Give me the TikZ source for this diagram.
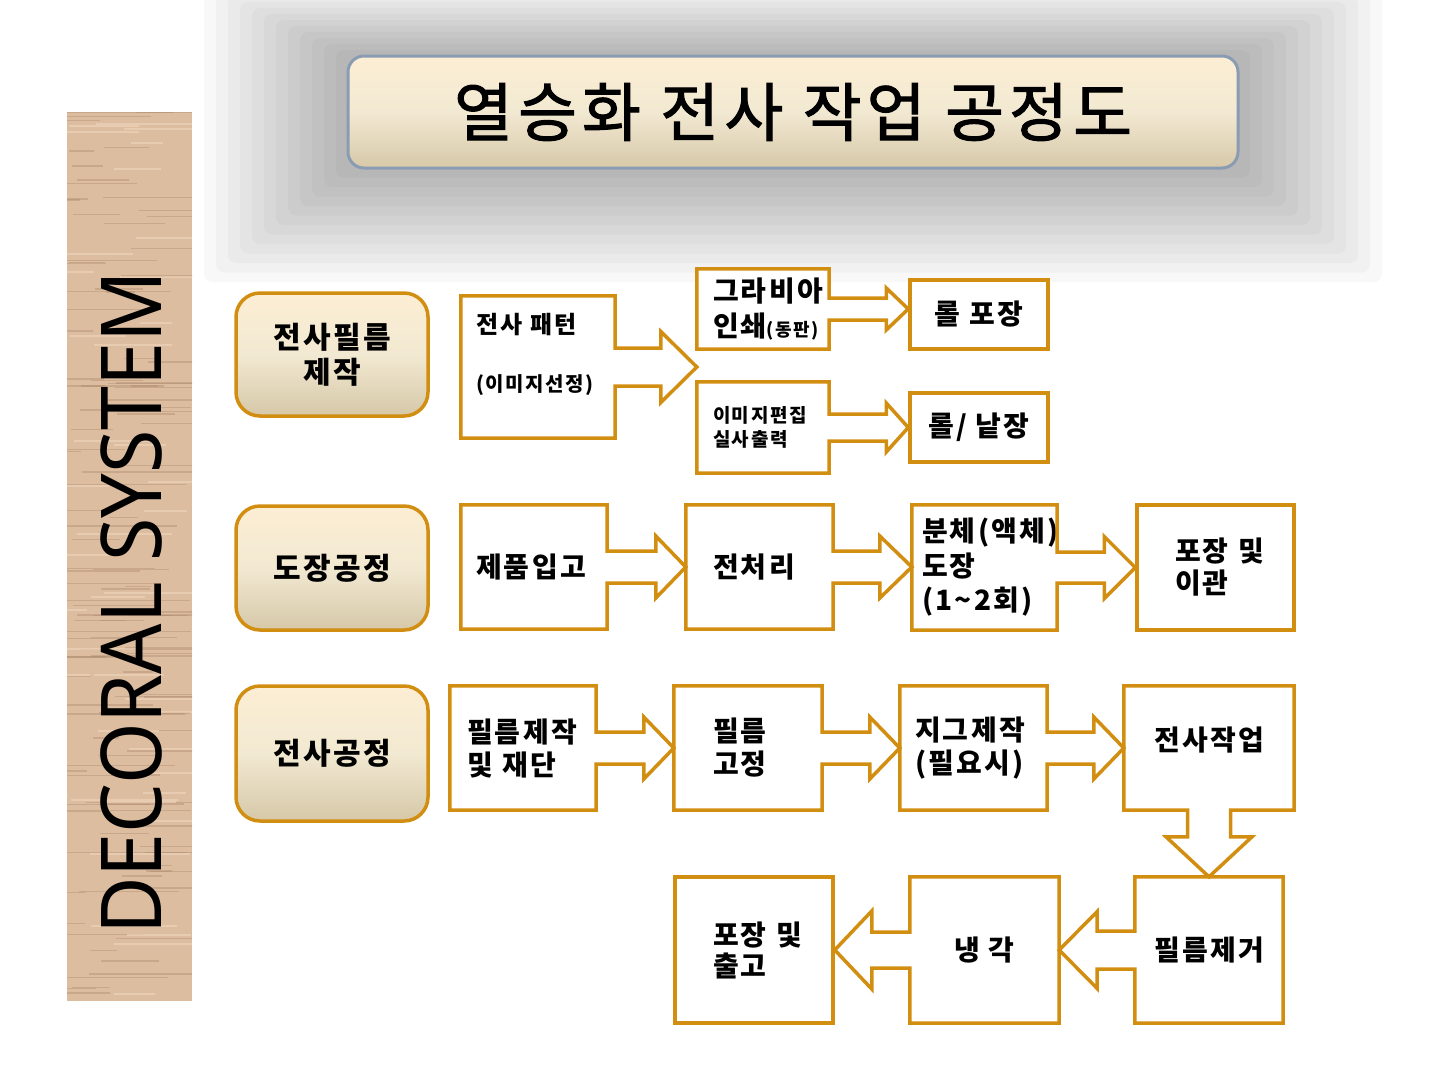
\documentclass[tikz,border=0pt]{standalone}
\usepackage{fontspec}
\setmainfont{Noto Sans CJK KR}[LetterSpace=8]
\newfontfamily\titlefont{Noto Sans CJK KR}[LetterSpace=8,FakeBold=1.6]
\newfontfamily\decofont{Noto Sans}
\usetikzlibrary{calc}
\definecolor{gold}{RGB}{210,142,16}
\definecolor{titleline}{RGB}{138,156,180}
\definecolor{creamtop}{RGB}{252,238,212}
\definecolor{creammid}{RGB}{242,233,210}
\definecolor{creambot}{RGB}{214,200,168}
\definecolor{wood}{RGB}{221,189,160}
\definecolor{woodgrain}{RGB}{170,136,106}
\definecolor{woodlight}{RGB}{240,214,190}
% callout outlines: source, target, shaft half, head half, head length
\newcommand{\rcall}[5]{%
  \coordinate (#1tip) at (#2.west |- #1.east);
  \draw[goldline] (#1.north west) -- (#1.north east) -- ($(#1.east)+(0,-#3)$)
    -- ($(#1tip)+(-#5,-#3)$) -- ($(#1tip)+(-#5,-#4)$) -- (#1tip)
    -- ($(#1tip)+(-#5,#4)$) -- ($(#1tip)+(-#5,#3)$) -- ($(#1.east)+(0,#3)$)
    -- (#1.south east) -- (#1.south west) -- cycle;}
\newcommand{\lcall}[5]{%
  \coordinate (#1tip) at (#2.east |- #1.west);
  \draw[goldline] (#1.north east) -- (#1.north west) -- ($(#1.west)+(0,-#3)$)
    -- ($(#1tip)+(#5,-#3)$) -- ($(#1tip)+(#5,-#4)$) -- (#1tip)
    -- ($(#1tip)+(#5,#4)$) -- ($(#1tip)+(#5,#3)$) -- ($(#1.west)+(0,#3)$)
    -- (#1.south west) -- (#1.south east) -- cycle;}
\newcommand{\dcall}[5]{%
  \coordinate (#1tip) at (#1.south |- #2.north);
  \draw[goldline] (#1.north west) -- (#1.north east) -- (#1.south east)
    -- ($(#1.south)+(#3,0)$) -- ($(#1tip)+(#3,-#5)$) -- ($(#1tip)+(#4,-#5)$) -- (#1tip)
    -- ($(#1tip)+(-#4,-#5)$) -- ($(#1tip)+(-#3,-#5)$) -- ($(#1.south)+(-#3,0)$)
    -- (#1.south west) -- cycle;}
\begin{document}
\begin{tikzpicture}[x=1pt,y=-1pt,
  goldline/.style={draw=gold,line width=3.5pt,line join=miter},
  stage/.style={draw=gold,line width=3.5pt,rounded corners=24pt,top color=creamtop,bottom color=creambot,
    middle color=creammid,minimum width=192,align=center,font=\bfseries\fontsize{30}{35}\selectfont},
  cbox/.style={fill=white,inner ysep=0pt,align=left,font=\bfseries\fontsize{28}{33}\selectfont},
  pbox/.style={cbox,goldline,align=center}]
\useasboundingbox (0,0) rectangle (1440,1080);
% shadow behind the title
\foreach \i in {1,...,12}
  \fill[black,opacity=0.028,rounded corners=8pt] (348-12*\i,56-6*\i) rectangle (1238+12*\i,168+9.5*\i);
% wood strip
\begin{scope}
\clip (67,112) rectangle (192,1001);
\fill[wood] (67,112) rectangle (192,1001);
\pgfmathsetseed{11}
\foreach \k in {1,...,120}{
  \pgfmathsetmacro{\wy}{112+889*rnd}
  \pgfmathsetmacro{\wa}{40+110*rnd}
  \pgfmathsetmacro{\wl}{25+110*rnd}
  \pgfmathsetmacro{\ww}{0.5+1.6*rnd}
  \draw[woodgrain,opacity=0.4,line width=\ww] (\wa,\wy) -- ++(\wl,0);
}
\foreach \k in {1,...,40}{
  \pgfmathsetmacro{\wy}{112+889*rnd}
  \pgfmathsetmacro{\wa}{40+110*rnd}
  \pgfmathsetmacro{\wl}{30+90*rnd}
  \draw[woodlight,opacity=0.6,line width=2] (\wa,\wy) -- ++(\wl,0);
}
\end{scope}
\node[rotate=90,font=\decofont\fontsize{84}{84}\selectfont] (deco) at (131,603) {\scalebox{0.94}[1]{DECORAL SYSTEM}};
% title
\node[draw=titleline,line width=3pt,rounded corners=16pt,top color=creamtop,bottom color=creambot,middle color=creammid,
  minimum width=890,minimum height=112,font=\titlefont\fontsize{64}{70}\selectfont] (title) at (793,112) {열승화 전사 작업 공정도};
% left stages
\node[stage,minimum height=123] (s1) at (332,354.5) {전사필름\\제작};
\node[stage,minimum height=124] (s2) at (332,568) {도장공정};
\node[stage,minimum height=135] (s3) at (332,753.5) {전사공정};
% row 1
\node[cbox,text width=124,inner xsep=15,minimum height=142,text depth=87,font=\bfseries\fontsize{24}{30}\selectfont] (pat) at (538,367)
  {전사 패턴\\[28pt]{\fontsize{20}{30}\selectfont (이미지선정)}};
\node[cbox,text width=100,inner xsep=16,minimum height=80,font=\bfseries\fontsize{28}{35}\selectfont] (gra) at (763,309)
  {그라비아\\인쇄{\fontsize{18}{35}\selectfont (동판)}};
\node[cbox,text width=100,inner xsep=16,minimum height=91,font=\bfseries\fontsize{19}{24}\selectfont] (img) at (763,427.5)
  {이미지편집\\실사출력};
\node[pbox,minimum width=138,minimum height=69] (roll) at (979,314.5) {롤 포장};
\node[pbox,minimum width=138,minimum height=69] (sheet) at (979,427.5) {롤/ 낱장};
% row 2
\node[cbox,text width=116,inner xsep=15,minimum height=124] (prod) at (534,567) {제품입고};
\node[cbox,text width=93,inner xsep=27,minimum height=124] (pre) at (759.5,567) {전처리};
\node[cbox,text width=125,inner xsep=10,minimum height=125,font=\bfseries\fontsize{28}{34.5}\selectfont] (coat) at (984.5,567.5)
  {분체(액체)\\도장\\(1\textasciitilde 2회)};
\node[pbox,align=left,text width=81,inner xsep=38,minimum height=125,font=\bfseries\fontsize{28}{32}\selectfont] (move) at (1215.5,567.5)
  {포장~및\\이관};
% row 3
\node[cbox,text width=112,inner xsep=17,minimum height=124] (film) at (523,748) {필름제작\\및~재단};
\node[cbox,text width=70,inner xsep=39,minimum height=124] (fix) at (748,748) {필름\\고정};
\node[cbox,text width=117,inner xsep=15,minimum height=124] (jig) at (973.5,748) {지그제작\\(필요시)};
\node[cbox,align=center,minimum width=170,minimum height=124,text depth=18] (work) at (1209,748) {전사작업};
% row 4
\node[cbox,align=center,minimum width=148,minimum height=146] (remove) at (1209,950) {필름제거};
\node[cbox,align=center,minimum width=149,minimum height=146] (cool) at (984.5,950) {냉 각};
\node[pbox,align=left,text width=82,inner xsep=38,minimum height=146,font=\bfseries\fontsize{28}{31}\selectfont] (ship) at (754,950)
  {포장~및\\출고};
% callout outlines
\rcall{pat}{gra}{19}{35.5}{36}
\rcall{gra}{roll}{11}{21}{22}
\rcall{img}{sheet}{13.5}{24.5}{22}
\rcall{prod}{pre}{16}{31}{30}
\rcall{pre}{coat}{16}{31}{32}
\rcall{coat}{move}{15.5}{31}{31}
\rcall{film}{fix}{16}{31}{30}
\rcall{fix}{jig}{16}{31}{30}
\rcall{jig}{work}{16}{31}{30}
\dcall{work}{remove}{21.5}{43}{40}
\lcall{remove}{cool}{19}{38.5}{38}
\lcall{cool}{ship}{18}{39}{37}
\end{tikzpicture}
\end{document}
